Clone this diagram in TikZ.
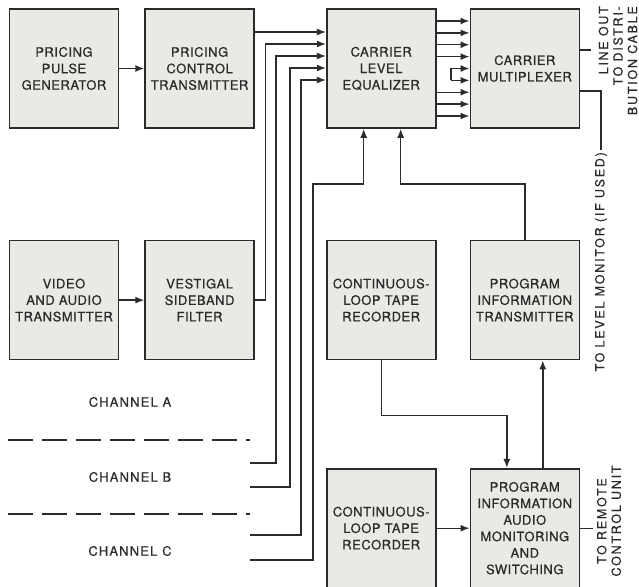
\documentclass[tikz,border=0pt]{standalone}
\usepackage{fontspec}
\setmainfont{TeX Gyre Heros}[LetterSpace=4, FakeBold=0.6]
\newfontfamily\sidefont{TeX Gyre Heros}[LetterSpace=14, FakeBold=0.6]
\newfontfamily\chanfont{TeX Gyre Heros}[LetterSpace=9, FakeBold=0.6]
\usepackage{tikz}
\usetikzlibrary{positioning, arrows.meta}
\definecolor{ink}{HTML}{2B2B2B}
\definecolor{boxgrey}{HTML}{E9E9E5}
\tikzset{
  blk/.style     = {rectangle, draw=ink, line width=1.6pt, fill=boxgrey,
                    minimum width=109pt, minimum height=119pt, inner sep=1pt,
                    align=center, text=ink, font=\fontsize{13}{16.5}\selectfont},
  chlabel/.style = {inner sep=1pt, text=ink, font=\chanfont\fontsize{13}{15}\selectfont},
  side/.style    = {rotate=90, inner sep=2pt, text=ink,
                    font=\sidefont\fontsize{12.5}{14.5}\selectfont},
  arr/.style     = {-{Latex[length=9pt,width=7pt]}, line width=1.4pt, draw=ink},
  wire/.style    = {line width=1.4pt, draw=ink},
  sep/.style     = {line width=1.4pt, draw=ink, dash pattern=on 25pt off 9pt},
}

\begin{document}
\begin{tikzpicture}[x=1pt, y=-1pt]
  \useasboundingbox (0,0) rectangle (639,586);

  % top row
  \node[blk] (ppg) at (64,68.5) {PRICING\\PULSE\\GENERATOR};
  \node[blk, right=25pt of ppg] (pct) {PRICING\\CONTROL\\TRANSMITTER};
  \node[blk, right=71pt of pct] (cle) {CARRIER\\LEVEL\\EQUALIZER};
  \node[blk, right=33pt of cle] (mux) {CARRIER\\MULTIPLEXER};

  % middle row
  \node[blk, below=111pt of ppg] (vat) {VIDEO\\AND AUDIO\\TRANSMITTER};
  \node[blk, below=111pt of pct] (vsb) {VESTIGAL\\SIDEBAND\\FILTER};
  \node[blk, below=111pt of cle] (cltr) {CONTINUOUS-\\LOOP TAPE\\RECORDER};
  \node[blk, below=111pt of mux] (pit) {PROGRAM\\INFORMATION\\TRANSMITTER};

  % bottom row
  \node[blk, below=107.5pt of cltr] (cltrb) {CONTINUOUS-\\LOOP TAPE\\RECORDER};
  \node[blk, below=107.5pt of pit] (piams)
       {PROGRAM\\INFORMATION\\AUDIO\\MONITORING\\AND\\SWITCHING};

  % channels
  \node[chlabel] (chA) at (130,402) {CHANNEL A};
  \node[chlabel] (chB) at (130,477) {CHANNEL B};
  \node[chlabel] (chC) at (130,551) {CHANNEL C};
  \foreach \y in {440,514}
    \draw[sep] (8,\y) -- (250,\y);
  \coordinate (chB1) at (250,463);
  \coordinate (chB2) at (250,487);
  \coordinate (chC1) at (250,535);
  \coordinate (chC2) at (250,560);

  % side notes
  \node[side, align=right, anchor=east] (lout) at (618,4) {LINE OUT\\TO DISTRI-\\BUTION CABLE};
  \node[side, anchor=east] (lvl) at (601,150) {TO LEVEL MONITOR (IF USED)};
  \node[side, align=center] (rcu) at (609,521) {TO REMOTE\\CONTROL UNIT};

  % equalizer inputs
  \foreach \n/\dy in {1/36.5,2/24.5,3/12.5,4/0.5,5/-11.5}
    \coordinate (cin\n) at ([yshift=\dy pt]cle.west);
  \coordinate (cbot1) at ([xshift=-17.5pt]cle.south);
  \coordinate (cbot2) at ([xshift=19.5pt]cle.south);

  \draw[arr] (ppg) -- (pct);
  \draw[arr] (vat) -- (vsb);
  \draw[arr] (pct.east |- cin1) -- (cin1);
  \draw[arr] (vsb.east) -- ++(10.5pt,0pt) |- (cin2);
  \draw[arr] (chB1) -| ([xshift=-50pt]cin3) -- (cin3);
  \draw[arr] (chB2) -| ([xshift=-36pt]cin4) -- (cin4);
  \draw[arr] (chC1) -| ([xshift=-25pt]cin5) -- (cin5);
  \draw[arr] (chC2) -| ([xshift=-13pt,yshift=-55pt]cle.south west) -| (cbot1);
  \draw[arr] (pit.north) |- ([yshift=-55pt]cbot2) -- (cbot2);

  % equalizer to multiplexer
  \foreach \i in {0,...,8}
    \coordinate (min\i) at ([yshift={47.5pt-11.875pt*\i}]mux.west);
  \foreach \i in {0,1,2,3,6,7,8}
    \draw[arr] (cle.east |- min\i) -- (min\i);
  \draw[arr] ([xshift=-18.5pt]min5) -- ([xshift=-18.5pt]min4) -- (min4);
  \draw[arr] ([xshift=-18.5pt]min5) -- (min5);

  % program information loop
  \draw[arr] (cltr.south) -- ++(0pt,-55pt) -| ([xshift=-18pt]piams.north);
  \draw[arr] ([xshift=18pt]piams.north) -- ([xshift=18pt]piams.north |- pit.south);
  \draw[arr] (cltrb) -- (piams);

  % outputs
  \coordinate (mout1) at ([yshift=18.5pt]mux.east);
  \coordinate (mout2) at ([yshift=-22.5pt]mux.east);
  \coordinate (lineout) at ([xshift=11pt]mout1);
  \coordinate (remote) at ([xshift=13pt]piams.east);
  \draw[wire] (mout1) -- (lineout);
  \draw[wire] (mout2) -| (lvl.east);
  \draw[wire] (piams.east) -- (remote);
\end{tikzpicture}
\end{document}
